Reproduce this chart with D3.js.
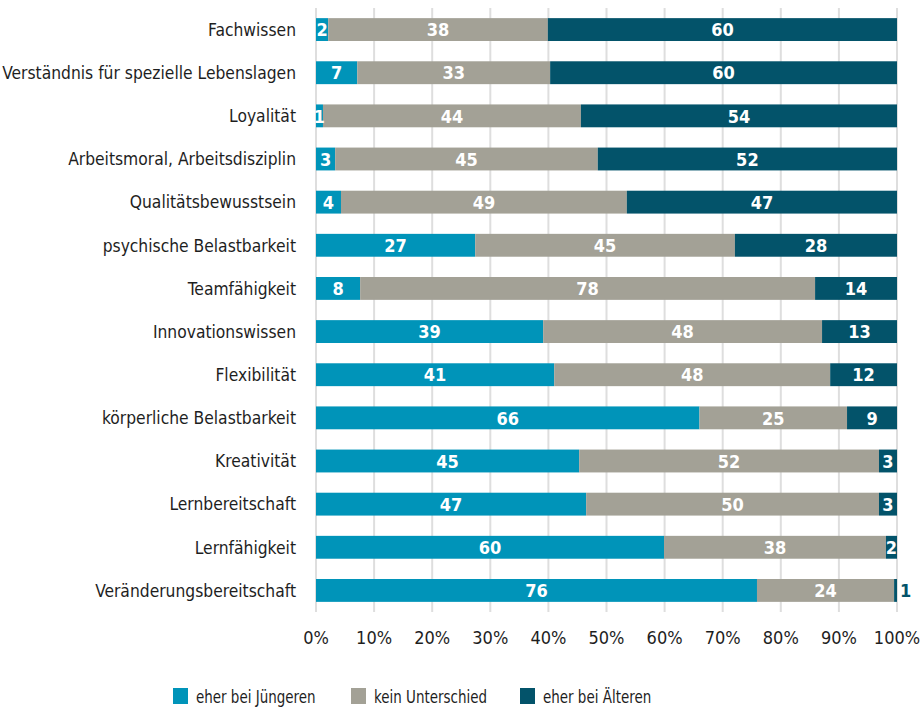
<!DOCTYPE html>
<html>
<head>
<meta charset="utf-8">
<script src="https://cdn.jsdelivr.net/npm/d3@7"></script>
<style>
  body { margin: 0; background: #fff; }
  svg text { font-family: "Liberation Sans Narrow", "DejaVu Sans Condensed", "Roboto", sans-serif; }
</style>
</head>
<body>
<div class="box"></div>
<script>
// categories from top to bottom
const categories = [
  "Fachwissen",
  "Verständnis für spezielle Lebenslagen",
  "Loyalität",
  "Arbeitsmoral, Arbeitsdisziplin",
  "Qualitätsbewusstsein",
  "psychische Belastbarkeit",
  "Teamfähigkeit",
  "Innovationswissen",
  "Flexibilität",
  "körperliche Belastbarkeit",
  "Kreativität",
  "Lernbereitschaft",
  "Lernfähigkeit",
  "Veränderungsbereitschaft"
];
const juengeren = [2.1, 7.1, 1.2, 3.3, 4.3, 27.4, 7.6, 39.1, 41.0, 66.0, 45.3, 46.5, 59.9, 75.9];
const keinUnterschied = [37.8, 33.2, 44.4, 45.2, 49.2, 44.7, 78.3, 48.0, 47.5, 25.4, 51.6, 50.4, 38.2, 23.6];
const aelteren = [60.1, 59.7, 54.4, 51.5, 46.5, 27.9, 14.1, 12.9, 11.5, 8.6, 3.1, 3.1, 1.9, 0.5];
const seriesNames = ["eher bei Jüngeren", "kein Unterschied", "eher bei Älteren"];
const colors = ["#0094b9", "#a3a196", "#03536a"];
const tickValues = [0, 0.1, 0.2, 0.3, 0.4, 0.5, 0.6, 0.7, 0.8, 0.9, 1];

let rows = categories.map(function (c, i) {
  return { cat: c, s0: juengeren[i], s1: keinUnterschied[i], s2: aelteren[i] };
});

let width = 922, height = 709;
let margin = { top: 8, right: 25, bottom: 97, left: 316 };

let svg = d3.select(".box").append("svg")
  .attr("width", width)
  .attr("height", height);

let x = d3.scaleLinear().domain([0, 1]).range([margin.left, width - margin.right]);
let y = d3.scaleBand().domain(categories)
  .range([margin.top, height - margin.bottom])
  .paddingInner(0.47).paddingOuter(0.235);

let stack = d3.stack().keys(["s0", "s1", "s2"]).offset(d3.stackOffsetExpand);
let layers = stack(rows);

// grid lines
svg.append("g").selectAll("line")
  .data(tickValues)
  .enter().append("line")
  .attr("x1", function (d) { return x(d); })
  .attr("x2", function (d) { return x(d); })
  .attr("y1", margin.top)
  .attr("y2", height - margin.bottom)
  .attr("stroke", "#dedede")
  .attr("stroke-width", 2);

// bars
let groups = svg.append("g").selectAll("g")
  .data(layers)
  .enter().append("g")
  .attr("fill", function (d, i) { return colors[i]; });

groups.selectAll("rect")
  .data(function (d) { return d; })
  .enter().append("rect")
  .attr("x", function (d) { return x(d[0]); })
  .attr("y", function (d) { return y(d.data.cat); })
  .attr("width", function (d) { return x(d[1]) - x(d[0]); })
  .attr("height", y.bandwidth());

// value labels
layers.forEach(function (layer, li) {
  svg.append("g").selectAll("text")
    .data(layer)
    .enter().append("text")
    .each(function (d) {
      let w = x(d[1]) - x(d[0]);
      let val = Math.round(d.data["s" + li]);
      let t = d3.select(this)
        .attr("y", y(d.data.cat) + y.bandwidth() / 2)
        .attr("dy", "0.37em")
        .attr("font-size", 18)
        .attr("font-weight", "bold")
        .text(val);
      if (w < 5) {
        t.attr("x", x(d[1]) + 3).attr("text-anchor", "start").attr("fill", colors[li]);
      } else {
        t.attr("x", (x(d[0]) + x(d[1])) / 2).attr("text-anchor", "middle").attr("fill", "#fff");
      }
    });
});

// category labels
svg.append("g").selectAll("text")
  .data(categories)
  .enter().append("text")
  .attr("x", margin.left - 20)
  .attr("y", function (d) { return y(d) + y.bandwidth() / 2; })
  .attr("dy", "0.36em")
  .attr("text-anchor", "end")
  .attr("font-size", 17.3)
  .attr("fill", "#1e1e1e")
  .text(function (d) { return d; });

// x axis tick labels
svg.append("g").selectAll("text")
  .data(tickValues)
  .enter().append("text")
  .attr("x", function (d) { return x(d); })
  .attr("y", 638)
  .attr("dy", "0.36em")
  .attr("text-anchor", "middle")
  .attr("font-size", 18)
  .attr("fill", "#1e1e1e")
  .text(function (d) { return d3.format(".0%")(d); });

// legend
let legendX = [173, 351, 520];
let legend = svg.append("g").selectAll("g")
  .data(seriesNames)
  .enter().append("g")
  .attr("transform", function (d, i) { return "translate(" + legendX[i] + ",688)"; });
legend.append("rect")
  .attr("width", 15).attr("height", 16)
  .attr("fill", function (d, i) { return colors[i]; });
// narrow the legend text horizontally so it keeps its height but fits the space
legend.append("text")
  .attr("transform", "translate(23,9) scale(0.88,1)")
  .attr("dy", "0.36em")
  .attr("font-size", 17)
  .attr("fill", "#1e1e1e")
  .text(function (d) { return d; });
</script>
</body>
</html>
